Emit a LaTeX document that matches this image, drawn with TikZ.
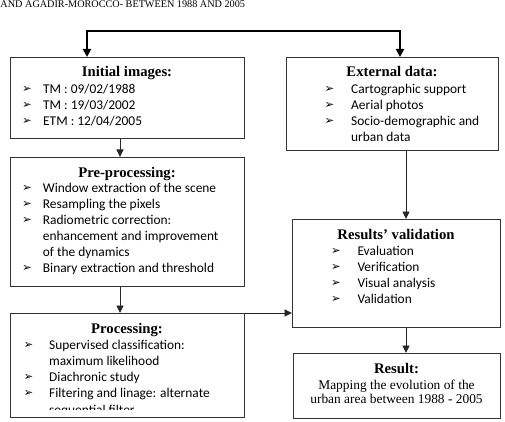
\documentclass[tikz,border=0pt]{standalone}
\usepackage{fontspec}
\setmainfont{Liberation Serif}
\newfontfamily\calibfont{Carlito}
\newfontfamily\dejafont{DejaVu Sans}
\usetikzlibrary{arrows.meta}
\begin{document}
\begin{tikzpicture}[x=1pt,y=-1pt,
  box/.style={draw=black!80,line width=1pt,anchor=north west,inner sep=0pt},
  ttl/.style={font=\fontsize{14.7}{16}\selectfont\bfseries,anchor=base,inner sep=0pt},
  itm/.style={font=\calibfont\fontsize{13.4}{16}\selectfont,anchor=base west,inner sep=0pt},
  rtx/.style={font=\fontsize{13.4}{16}\selectfont,anchor=base,inner sep=0pt},
  bul/.style={font=\dejafont\fontsize{11.5}{12}\selectfont,anchor=base west,inner sep=0pt},
  arr/.style={draw=black!85,line width=0.9pt,-{Triangle[length=7.5pt,width=7pt]}},
  brk/.style={draw=black,line width=2.5pt,{Triangle[length=8pt,width=8pt]}-{Triangle[length=8pt,width=8pt]}}]
\useasboundingbox (0,0) rectangle (505,422);

% header
\node[font=\fontsize{10.2}{12}\selectfont,anchor=base west,inner sep=0pt] (hdr) at (0.3,7.8) {AND AGADIR-MOROCCO- BETWEEN 1988 AND 2005};

% boxes
\node[box,minimum width=234pt,minimum height=81pt] (init) at (10,57) {};
\node[box,minimum width=212pt,minimum height=93pt] (ext) at (286,57) {};
\node[box,minimum width=234pt,minimum height=129pt] (pre) at (10,157) {};
\node[box,minimum width=234pt,minimum height=104pt] (proc) at (10,313) {};
\node[box,minimum width=208pt,minimum height=108pt] (val) at (292,219) {};
\node[box,minimum width=207pt,minimum height=65pt] (res) at (293,353) {};

% initial images
\node[ttl] (t1) at (127,77) {Initial images:};
\node[bul] (b11) at (22,93) {➢}; \node[itm] (i11) at (43,94) {TM : 09/02/1988};
\node[bul] (b12) at (22,109) {➢}; \node[itm] (i12) at (43,110) {TM : 19/03/2002};
\node[bul] (b13) at (22,125) {➢}; \node[itm] (i13) at (43,126) {ETM : 12/04/2005};

% external data
\node[ttl] (t2) at (392,77) {External data:};
\node[bul] (b21) at (324.3,93) {➢}; \node[itm] (i21) at (351,94) {Cartographic support};
\node[bul] (b22) at (324.3,109) {➢}; \node[itm] (i22) at (351,110) {Aerial photos};
\node[bul] (b23) at (324.3,125) {➢}; \node[itm] (i23) at (351,126) {Socio-demographic and};
\node[itm] (i24) at (351,142) {urban data};

% pre-processing
\node[ttl] (t3) at (127,177) {Pre-processing:};
\node[bul] (b31) at (22,191.5) {➢}; \node[itm] (i31) at (42.7,192.5) {Window extraction of the scene};
\node[bul] (b32) at (22,207.5) {➢}; \node[itm] (i32) at (42.7,208.5) {Resampling the pixels};
\node[bul] (b33) at (22,223.5) {➢}; \node[itm] (i33) at (42.7,224.5) {Radiometric correction:};
\node[itm] (i34) at (42.7,240.5) {enhancement and improvement};
\node[itm] (i35) at (42.7,256.5) {of the dynamics};
\node[bul] (b36) at (22,271.5) {➢}; \node[itm] (i36) at (42.7,272.5) {Binary extraction and threshold};

% processing
\node[ttl] (t4) at (127,333) {Processing:};
\node[bul] (b41) at (23.3,348.3) {➢}; \node[itm] (i41) at (49,349.3) {Supervised classification:};
\node[itm] (i42) at (49,365.3) {maximum likelihood};
\node[bul] (b43) at (23.3,380.3) {➢}; \node[itm] (i43) at (49,381.3) {Diachronic study};
\node[bul] (b44) at (23.3,396.5) {➢}; \node[itm] (i44) at (49,397.5) {Filtering and linage: alternate};
\begin{scope}
  \clip (10,313) rectangle (244,409.5);
  \node[itm] (i45) at (49,414.5) {sequential filter};
\end{scope}

% results' validation
\node[ttl] (t5) at (396,239) {Results’ validation};
\node[bul] (b51) at (331,254) {➢}; \node[itm] (i51) at (357.3,255) {Evaluation};
\node[bul] (b52) at (331,270) {➢}; \node[itm] (i52) at (357.3,271) {Verification};
\node[bul] (b53) at (331,286) {➢}; \node[itm] (i53) at (357.3,287) {Visual analysis};
\node[bul] (b54) at (331,302) {➢}; \node[itm] (i54) at (357.3,303) {Validation};

% result
\node[ttl] (t6) at (396.5,373) {Result:};
\node[rtx] (r1) at (396.5,389) {Mapping the evolution of the};
\node[rtx] (r2) at (396.5,403.7) {urban area between 1988 - 2005};

% connectors
\coordinate (bl) at (87,31);
\coordinate (br) at (400,31);
\coordinate (c1) at (120,0);
\coordinate (c2) at (406,0);
\draw[brk] (bl |- init.north) -- (bl) -- (br) -- (br |- ext.north);
\draw[arr] (init.south -| c1) -- (pre.north -| c1);
\draw[arr] (pre.south -| c1) -- (proc.north -| c1);
\draw[arr] (ext.south -| c2) -- (val.north -| c2);
\draw[arr] (val.south -| c2) -- (res.north -| c2);
\draw[arr] (proc.north east) -- (val.west |- proc.north);
\end{tikzpicture}
\end{document}
